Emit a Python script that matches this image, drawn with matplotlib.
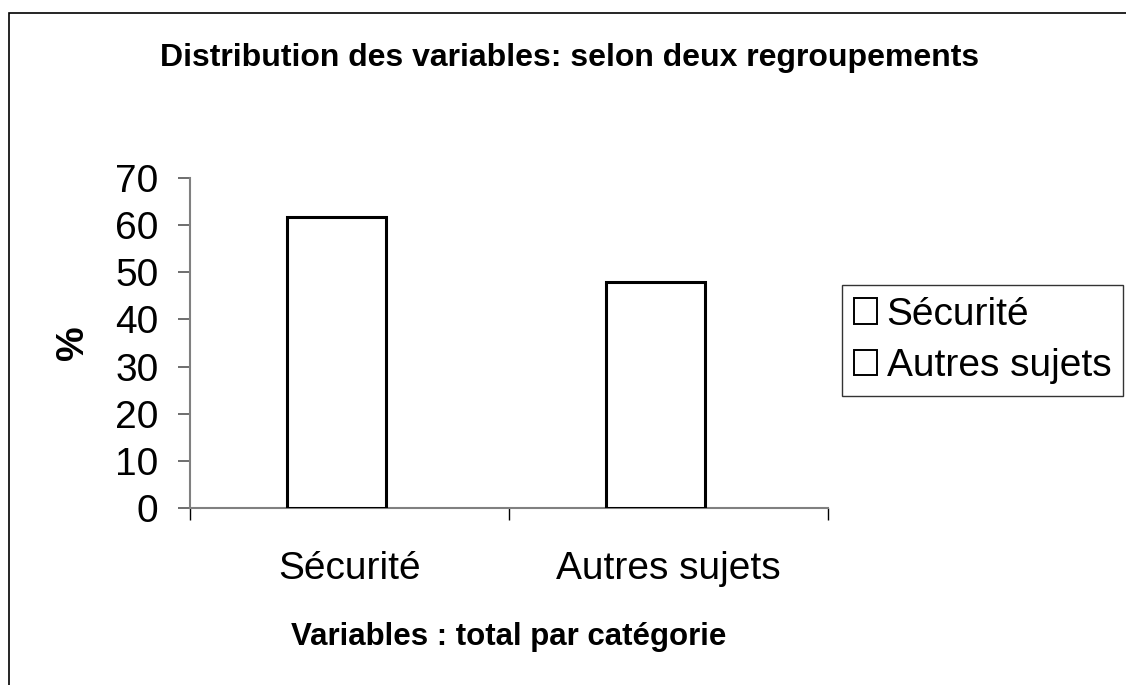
import matplotlib
matplotlib.use("Agg")
import matplotlib.pyplot as plt
import numpy as np
from matplotlib.patches import Patch, Rectangle

categories = ["Sécurité", "Autres sujets"]
values = [61.8, 48.0]
yticks = [0, 10, 20, 30, 40, 50, 60, 70]
title = "Distribution des variables: selon deux regroupements"
xlabel = "Variables : total par catégorie"
ylabel = "%"

plt.rcParams['font.family'] = ['Liberation Sans', 'DejaVu Sans']

fig = plt.figure(figsize=(11.26, 6.85), dpi=100)
ax = fig.add_axes([190/1126, 1-508/685, (828-190)/1126, (508-178)/685])

# outer border (partially cut off)
fig.patches.append(Rectangle((9/1126, -0.5), 2, (685-13)/685 + 0.5,
                             transform=fig.transFigure, fill=False,
                             edgecolor='black', linewidth=1.2))

x = np.arange(len(categories)) + 0.5 - 0.042
ax.bar(x, values, width=0.31, facecolor='white', edgecolor='black', linewidth=2.2, zorder=3)

ax.set_xlim(0, 2)
ax.set_ylim(0, 70)
ax.set_yticks(yticks)
ax.set_yticklabels([str(t) for t in yticks], fontsize=28)
ax.tick_params(axis='y', direction='out', length=8.6, width=1.2, color='#555555', pad=14)
ax.set_xticks([0, 1, 2])
ax.set_xticklabels(['', '', ''])
ax.tick_params(axis='x', which='major', direction='out', length=8.6, width=1, color='black')
ax.set_xticks(np.arange(len(categories)) + 0.5, minor=True)
ax.set_xticklabels(categories, minor=True, fontsize=28)
ax.tick_params(axis='x', which='minor', length=0, pad=31)

for s in ['top', 'right']:
    ax.spines[s].set_visible(False)
for s in ['left', 'bottom']:
    ax.spines[s].set_color('#808080')
    ax.spines[s].set_linewidth(1.5)

ax.set_xlabel(xlabel, fontsize=22.5, fontweight='bold', labelpad=25)
ax.yaxis.set_label_coords(-(190-73)/638, (508-341)/330)
ax.set_ylabel(ylabel, fontsize=28, fontweight='bold', va='center')

fig.text(570/1126, 1-58/685, title, fontsize=23, fontweight='bold', ha='center', va='center')

handles = [Patch(facecolor='white', edgecolor='black', linewidth=1.4, label=c) for c in categories]
leg = fig.legend(handles=handles, loc='upper left', bbox_to_anchor=(842/1126, 1-285/685),
                 fontsize=28, frameon=True, fancybox=False, edgecolor='black',
                 handlelength=0.6, handleheight=0.62, handletextpad=0.25,
                 borderpad=0.3, labelspacing=0.4, borderaxespad=0)
leg.get_frame().set_linewidth(1.0)

fig.savefig("out.png", dpi=100)
